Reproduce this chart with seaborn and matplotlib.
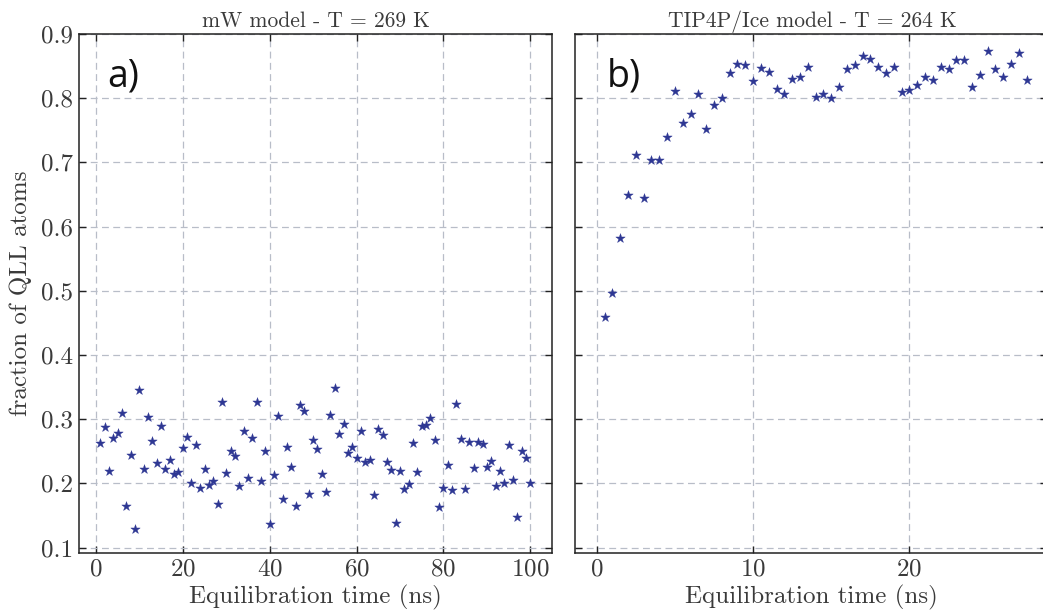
import numpy as np
import pandas as pd
import matplotlib
matplotlib.use("Agg")
import matplotlib.pyplot as plt
import seaborn as sns

# ---------------- data ----------------
time_a = list(range(1, 101))
frac_a = [0.263, 0.288, 0.220, 0.270, 0.278, 0.309, 0.165, 0.244, 0.129, 0.346,
          0.223, 0.304, 0.266, 0.232, 0.290, 0.222, 0.236, 0.215, 0.218, 0.255,
          0.272, 0.200, 0.259, 0.193, 0.222, 0.197, 0.204, 0.168, 0.326, 0.216,
          0.250, 0.243, 0.196, 0.281, 0.209, 0.270, 0.326, 0.204, 0.250, 0.137,
          0.213, 0.305, 0.175, 0.257, 0.226, 0.164, 0.322, 0.312, 0.183, 0.267,
          0.253, 0.215, 0.187, 0.307, 0.349, 0.277, 0.292, 0.248, 0.256, 0.240,
          0.281, 0.234, 0.236, 0.182, 0.284, 0.275, 0.234, 0.221, 0.138, 0.220,
          0.191, 0.199, 0.263, 0.218, 0.290, 0.291, 0.302, 0.267, 0.163, 0.193,
          0.228, 0.190, 0.323, 0.269, 0.191, 0.265, 0.224, 0.264, 0.262, 0.226,
          0.235, 0.196, 0.220, 0.201, 0.259, 0.205, 0.148, 0.250, 0.240, 0.200]

time_b = [0.5, 1.0, 1.5, 2.0, 2.5, 3.0, 3.5, 4.0, 4.5, 5.0, 5.5, 6.0, 6.5, 7.0,
          7.5, 8.0, 8.5, 9.0, 9.5, 10.0, 10.5, 11.0, 11.5, 12.0, 12.5, 13.0,
          13.5, 14.0, 14.5, 15.0, 15.5, 16.0, 16.5, 17.0, 17.5, 18.0, 18.5,
          19.0, 19.5, 20.0, 20.5, 21.0, 21.5, 22.0, 22.5, 23.0, 23.5, 24.0,
          24.5, 25.0, 25.5, 26.0, 26.5, 27.0, 27.5]
frac_b = [0.459, 0.496, 0.582, 0.649, 0.712, 0.644, 0.704, 0.703, 0.739, 0.811,
          0.761, 0.776, 0.807, 0.752, 0.790, 0.800, 0.839, 0.853, 0.851, 0.827,
          0.847, 0.841, 0.814, 0.807, 0.830, 0.833, 0.848, 0.802, 0.806, 0.800,
          0.818, 0.846, 0.851, 0.865, 0.861, 0.849, 0.840, 0.848, 0.809, 0.812,
          0.820, 0.833, 0.829, 0.848, 0.845, 0.860, 0.860, 0.817, 0.836, 0.874,
          0.845, 0.833, 0.854, 0.870, 0.828]

titles = ["mW model - T = 269 K", "TIP4P/Ice model - T = 264 K"]
panel_tags = ["a)", "b)"]
xlabel = "Equilibration time (ns)"
ylabel = "fraction of QLL atoms"
yticks = [0.1, 0.2, 0.3, 0.4, 0.5, 0.6, 0.7, 0.8, 0.9]
xticks_a = [0, 20, 40, 60, 80, 100]
xticks_b = [0, 10, 20]

# ---------------- style ----------------
sns.set_style("ticks")
plt.rcParams["font.family"] = ["cmr10", "DejaVu Serif"]
plt.rcParams["axes.formatter.use_mathtext"] = True
plt.rcParams["mathtext.fontset"] = "cm"

STAR = "#2e3793"
GRID = "#b8bdc8"
TXT = "#3a3a3a"

W, H = 1043, 612
fig = plt.figure(figsize=(W / 100, H / 100), dpi=100)

def box(l, r, t, b):
    return [l / W, 1 - b / H, (r - l) / W, (b - t) / H]

ax_a = fig.add_axes(box(79, 552, 34, 553))
ax_b = fig.add_axes(box(575, 1047, 34, 553))

df_a = pd.DataFrame({"t": time_a, "f": frac_a})
df_b = pd.DataFrame({"t": time_b, "f": frac_b})

for ax, df in [(ax_a, df_a), (ax_b, df_b)]:
    sns.scatterplot(data=df, x="t", y="f", ax=ax, marker="*", s=50,
                    color=STAR, edgecolor=STAR, linewidth=0.3, zorder=3)

ax_a.set_xlim(-3.9, 105.0)
ax_b.set_xlim(-1.39, 28.8)
for ax in (ax_a, ax_b):
    ax.set_ylim(0.0915, 0.9)
    ax.set_yticks(yticks)
    ax.grid(True, color=GRID, linestyle=(0, (5.5, 3.5)), linewidth=0.9)
    ax.set_axisbelow(True)
    ax.tick_params(direction="in", length=5, width=1, top=True, right=True,
                   labelsize=18, colors="#222222", labelcolor=TXT, pad=4)
    for s in ax.spines.values():
        s.set_linewidth(1.1)
        s.set_color("#222222")
    ax.set_xlabel(xlabel, fontsize=18, color=TXT, labelpad=3)

ax_a.set_xticks(xticks_a)
ax_b.set_xticks(xticks_b)
ax_a.set_yticklabels([f"{v:.1f}" for v in yticks])
ax_b.set_yticklabels([])
ax_a.set_ylabel(ylabel, fontsize=18, color=TXT, labelpad=7)
ax_b.set_ylabel("")

ax_a.set_title(titles[0], fontsize=15.5, color=TXT, pad=5)
ax_b.set_title(titles[1], fontsize=15.5, color=TXT, pad=5,
               x=(812 - 575) / 472)

ax_a.text(0.06, 0.955, panel_tags[0], transform=ax_a.transAxes,
          fontsize=27, family="Open Sans", color="#111111", va="top", ha="left")
ax_b.text(0.068, 0.955, panel_tags[1], transform=ax_b.transAxes,
          fontsize=27, family="Open Sans", color="#111111", va="top", ha="left")

fig.savefig("out.png", dpi=100)
